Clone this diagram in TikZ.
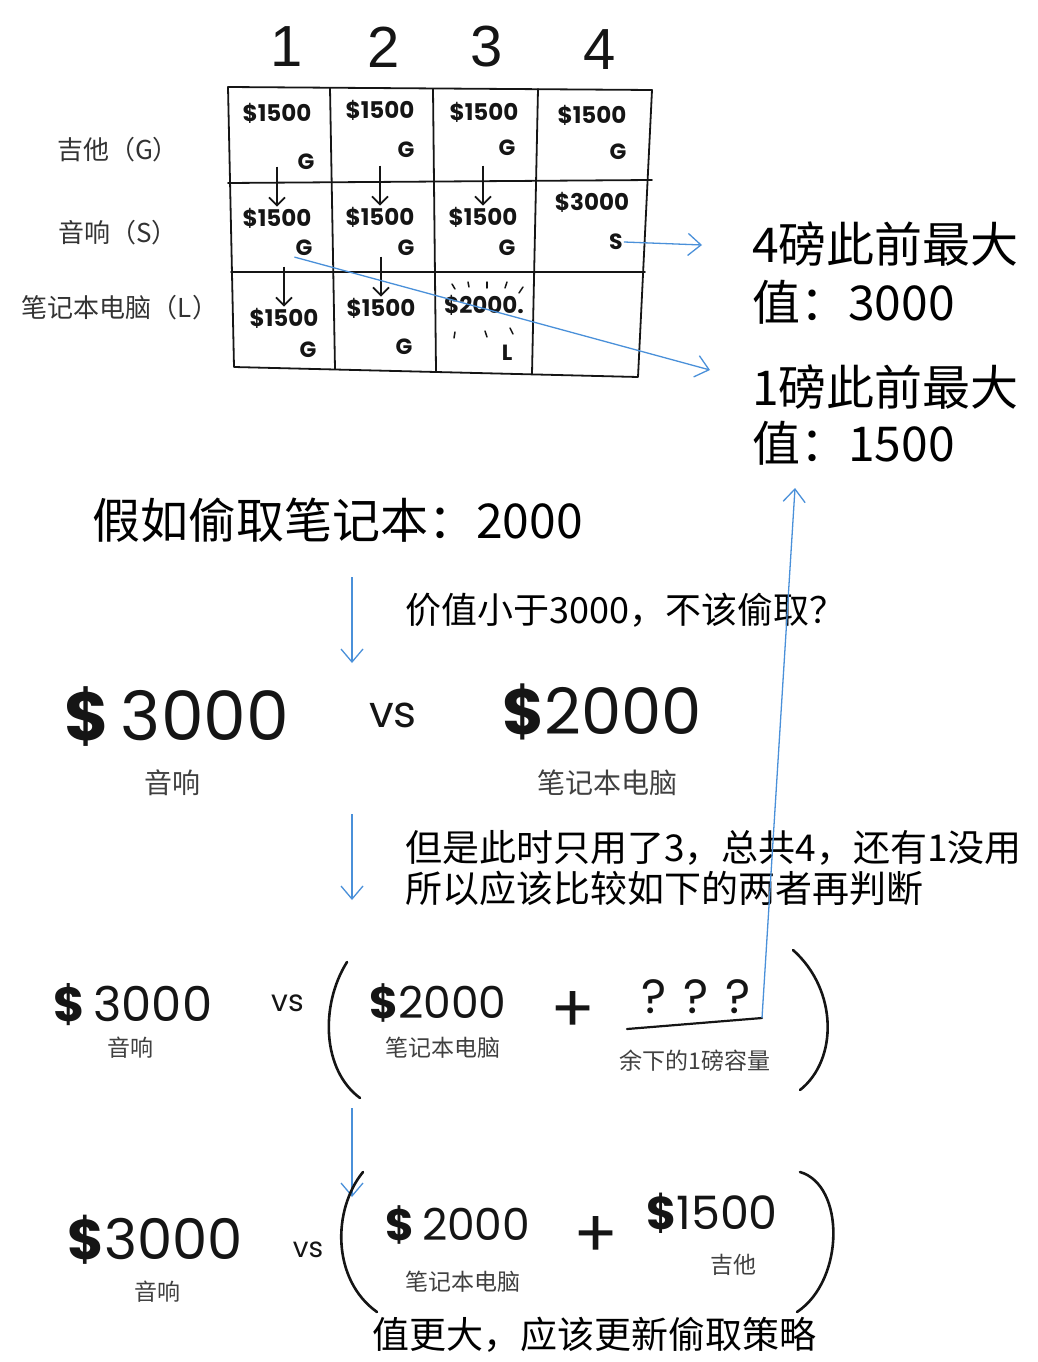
\documentclass[tikz,border=0pt]{standalone}
\usepackage{fontspec}
\setmainfont{Liberation Sans}
\newfontfamily\cjk{Noto Sans CJK SC}
\newfontfamily\hand{Poppins}
\usetikzlibrary{arrows.meta,calc}
\definecolor{link}{HTML}{4A90D9}
\definecolor{ink}{HTML}{151515}
\tikzset{
  gridline/.style={draw=ink,line width=1.8pt,line cap=round,line join=round},
  head/.style={font=\fontsize{58}{58}\selectfont,text=ink},
  rowlab/.style={font=\cjk\fontsize{26}{26}\selectfont,text=black!80},
  cellv/.style={font=\hand\bfseries\fontsize{23}{23}\selectfont,text=ink,inner sep=1pt},
  cellk/.style={font=\hand\bfseries\fontsize{22}{22}\selectfont,text=ink,inner sep=1pt},
  drop/.style={draw=ink,line width=1.8pt,-{Straight Barb[length=8pt,width=16pt]}},
  spark/.style={draw=ink,line width=1.5pt,line cap=round},
  note/.style={font=\cjk\fontsize{48}{58}\selectfont,anchor=west,inner sep=0pt},
  say/.style={font=\cjk\fontsize{37}{40}\selectfont,anchor=west,inner sep=0pt},
  money/.style={font=\hand\fontsize{#1}{#1}\selectfont,text=ink,inner sep=0pt},
  vs/.style={font=\hand\fontsize{#1}{#1}\selectfont,text=ink,inner sep=0pt},
  cap/.style={font=\cjk\fontsize{#1}{#1}\selectfont,text=black!75,inner sep=0pt},
  paren/.style={draw=ink,line width=2.6pt,line cap=round},
  flow/.style={draw=link,line width=1.3pt,-{Straight Barb[length=13pt,width=22pt]}},
}
\begin{document}
\begin{tikzpicture}[x=1pt,y=-1pt]
  \useasboundingbox (0,0) rectangle (1038,1362);
  % --- the table ---
  \draw[gridline] (228,87) -- (652,90) -- (638,377) -- (234,367) -- cycle;
  \draw[gridline] (228,183) -- (652,180);
  \draw[gridline] (231,272) -- (645,272);
  \draw[gridline] (330,88) -- (335,369);
  \draw[gridline] (433,89) -- (436,371);
  \draw[gridline] (538,89) -- (532,374);
  \foreach \n/\x/\y in {1/287/47,2/384/47,3/487/47,4/600/50}
    \node[head] (c\n) at (\x,\y) {\n};
  \node[rowlab] (rg) at (118,150) {吉他（G）};
  \node[rowlab] (rs) at (118,233) {音响（S）};
  \node[rowlab] (rl) at (120,308) {笔记本电脑（L）};
  \foreach \n/\x/\y/\t in {g1/277/113/1500,g2/380/110/1500,g3/484/112/1500,
      g4/592/115/1500,s1/277/218/1500,s2/380/217/1500,s3/483/217/1500,
      s4/592/202/3000,l1/284/318/1500,l2/381/308/1500}
    \node[cellv] (\n) at (\x,\y) {\$\t};
  \node[cellv] (l3) at (484,305) {\$2000.};
  \foreach \n/\x/\y/\t in {gk1/306/162/G,gk2/406/150/G,gk3/507/148/G,
      gk4/618/152/G,sk1/304/248/G,sk2/406/248/G,sk3/507/248/G,sk4/616/242/S,
      lk1/308/350/G,lk2/404/347/G,lk3/507/353/L}
    \node[cellk] (\n) at (\x,\y) {\t};
  \foreach \n in {s1,s2,s3,l1,l2}
    \draw[drop] (\n.north) ++(0,-40) -- (\n.north);
  \foreach \xa/\ya/\xb/\yb in {452/284/455/289,468/282/469/287,487/282/487/288,
      507/282/505/288,523/287/519/293,455/332/454/338,485/331/487/337,510/328/513/334}
    \draw[spark] (\xa,\ya) -- (\xb,\yb);
  % --- notes on the right ---
  \node[note] (n4a) at (752,244) {4磅此前最大};
  \node[note] (n4b) at (752,302) {值：3000};
  \node[note] (n1a) at (752,387) {1磅此前最大};
  \node[note] (n1b) at (752,443) {值：1500};
  \coordinate (n4in) at (702,245);
  \coordinate (n1in) at (710,370);
  \draw[flow] (sk4.east) -- (n4in);
  \draw[flow] (sk1.south west) -- (n1in);
  % --- reasoning ---
  \node[note] (take) at (92,520) {假如偷取笔记本：2000};
  \node[say,font=\cjk\fontsize{36}{40}\selectfont] (less) at (405,610) {价值小于3000，不该偷取？};
  \coordinate (d1a) at (352,577); \coordinate (d1b) at (352,663);
  \draw[flow] (d1a) -- (d1b);
  \node[money=68] (a3000) at (177,717) {\textbf{\$}\,3000};
  \node[vs=44] (vs1) at (393,715) {vs};
  \node[money=64] (a2000) at (602,712) {\textbf{\$}2000};
  \node[cap=28] (aS) at (172,783) {音响};
  \node[cap=28] (aL) at (607,783) {笔记本电脑};
  \node[say] (but) at (405,848) {但是此时只用了3，总共4，还有1没用};
  \node[say] (so) at (405,888) {所以应该比较如下的两者再判断};
  \coordinate (d2a) at (352,814); \coordinate (d2b) at (352,900);
  \draw[flow] (d2a) -- (d2b);
  % --- with the spare pound unknown ---
  \node[money=48] (b3000) at (133,1005) {\textbf{\$}\,3000};
  \node[cap=23] (bS) at (130,1048) {音响};
  \node[vs=30] (vs2) at (288,1003) {vs};
  \draw[paren] (347,962) .. controls (320,1005) and (322,1070) .. (360,1098);
  \node[money=44] (b2000) at (438,1003) {\textbf{\$}2000};
  \node[cap=23] (bL) at (443,1048) {笔记本电脑};
  \node[vs=66] (plus1) at (573,1012) {+};
  \node[money=48] (q) at (696,997) {? ? ?};
  \coordinate (qa) at (627,1029); \coordinate (qb) at (762,1018);
  \draw[paren,line width=2.2pt] (qa) -- (qb);
  \node[cap=23] (rest) at (695,1061) {余下的1磅容量};
  \draw[paren] (793,950) .. controls (838,990) and (838,1060) .. (800,1090);
  \coordinate (n1up) at (795,488);
  \draw[flow] (qb) -- (n1up);
  \coordinate (d3a) at (352,1108); \coordinate (d3b) at (352,1197);
  \draw[flow] (d3a) -- (d3b);
  % --- with the spare pound filled ---
  \node[money=56] (c3000) at (155,1240) {\textbf{\$}3000};
  \node[cap=23] (cS) at (157,1292) {音响};
  \node[vs=28] (vs3) at (308,1250) {vs};
  \draw[paren] (363,1172) .. controls (332,1210) and (332,1280) .. (377,1312);
  \node[money=44] (c2000) at (458,1225) {\textbf{\$}\,2000};
  \node[cap=23] (cL) at (463,1282) {笔记本电脑};
  \node[vs=66] (plus2) at (596,1237) {+};
  \node[money=46] (c1500) at (712,1213) {\textbf{\$}1500};
  \node[cap=23] (cG) at (733,1265) {吉他};
  \draw[paren] (800,1172) .. controls (845,1185) and (845,1280) .. (797,1312);
  \node[say] (more) at (372,1335) {值更大，应该更新偷取策略};
\end{tikzpicture}
\end{document}
